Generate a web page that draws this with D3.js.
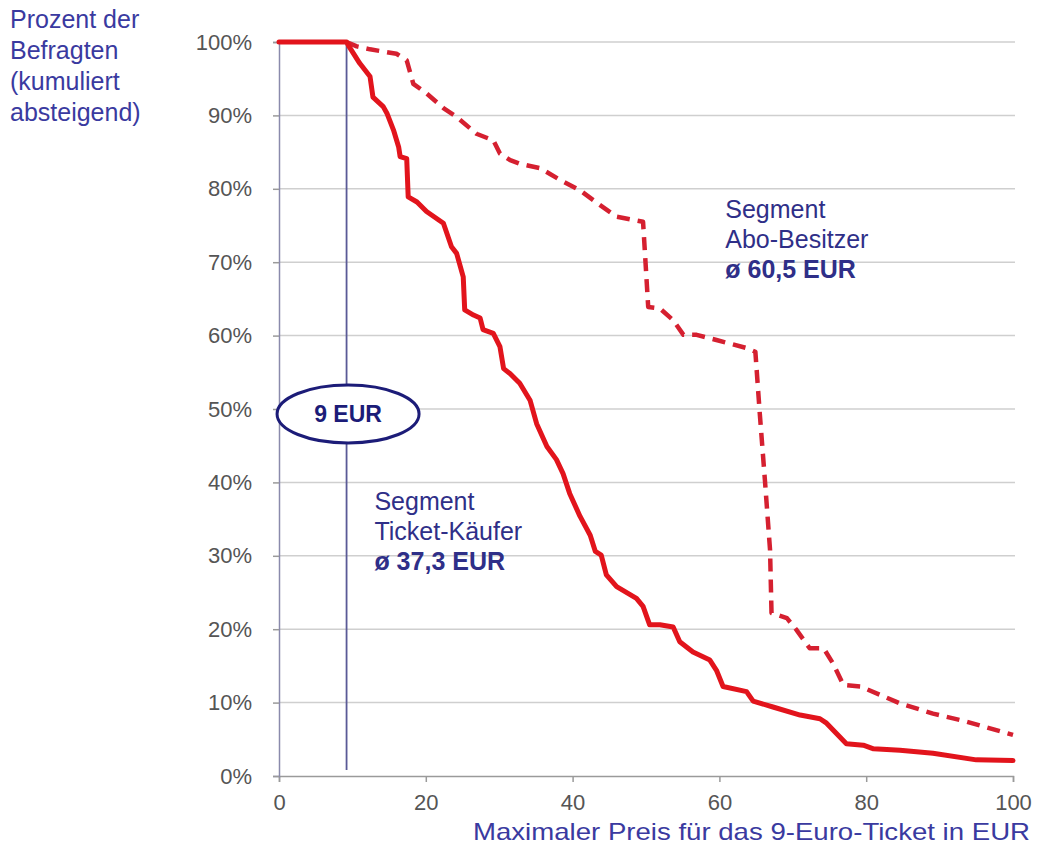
<!DOCTYPE html>
<html>
<head>
<meta charset="utf-8">
<script src="https://cdn.jsdelivr.net/npm/d3@7"></script>
<style>
  body { margin: 0; background: #fff; }
  text { font-family: "Liberation Sans", Arial, sans-serif; }
</style>
</head>
<body>
<script>
// Ticket-Käufer (solid line): price in EUR / share of respondents in %
var priceKaeufer = [0, 9.2, 9.6, 11.0, 12.4, 12.8, 14.2, 14.7, 15.6, 16.3, 16.5, 17.4, 17.6, 18.8, 20.1, 22.4, 23.5, 24.2, 25.1, 25.3, 26.5, 27.4, 27.8, 29.2, 30.1, 30.6, 31.5, 32.8, 34.2, 35.1, 36.5, 37.8, 38.7, 39.6, 41.0, 42.4, 43.1, 43.9, 44.6, 46.0, 48.7, 49.6, 50.5, 51.9, 53.7, 54.6, 56.4, 58.7, 59.6, 60.5, 63.7, 64.6, 67.3, 71.0, 73.7, 74.6, 77.3, 79.6, 81.0, 84.6, 89.1, 95.0, 100];
var pctKaeufer = [100, 100, 99.3, 97.1, 95.3, 92.5, 91.2, 90.3, 88.0, 85.7, 84.4, 84.1, 78.9, 78.2, 76.9, 75.3, 72.1, 71.2, 68.0, 63.5, 62.8, 62.4, 60.8, 60.3, 58.5, 55.5, 54.8, 53.5, 51.2, 48.0, 44.9, 43.1, 41.2, 38.5, 35.4, 32.8, 30.6, 30.1, 27.4, 25.8, 24.2, 23.1, 20.6, 20.6, 20.3, 18.3, 16.9, 15.8, 14.4, 12.2, 11.5, 10.2, 9.4, 8.3, 7.8, 7.2, 4.4, 4.2, 3.7, 3.5, 3.1, 2.2, 2.1];

// Abo-Besitzer (dashed line)
var priceAbo = [9.2, 10.6, 12.4, 16.0, 17.4, 18.3, 20.1, 22.4, 24.2, 26.9, 29.2, 30.1, 31.5, 32.8, 35.6, 38.3, 41.0, 43.7, 46.0, 49.6, 50.3, 51.9, 53.7, 55.1, 56.9, 59.6, 63.7, 64.9, 65.5, 66.2, 66.9, 67.1, 69.2, 70.5, 72.3, 74.2, 75.5, 76.9, 79.2, 84.6, 89.1, 93.7, 100];
var pctAbo = [100, 99.4, 99.0, 98.4, 97.5, 94.3, 93.0, 91.0, 89.8, 87.5, 86.6, 84.8, 83.9, 83.4, 82.8, 81.2, 79.8, 77.8, 76.2, 75.5, 63.9, 63.7, 62.1, 60.1, 60.1, 59.4, 58.3, 57.8, 49.4, 40.3, 30.8, 22.2, 21.5, 19.9, 17.4, 17.4, 15.3, 12.4, 12.2, 9.9, 8.5, 7.4, 5.6];

var xTicks = [0, 20, 40, 60, 80, 100];
var yTicks = [0, 10, 20, 30, 40, 50, 60, 70, 80, 90, 100];
var markerPrice = 9;
var yTitle = ["Prozent der", "Befragten", "(kumuliert", "absteigend)"];
var xTitle = "Maximaler Preis für das 9-Euro-Ticket in EUR";
var labelAbo = ["Segment", "Abo-Besitzer", "ø 60,5 EUR"];
var labelKaeufer = ["Segment", "Ticket-Käufer", "ø 37,3 EUR"];

(function(){
  const W = 1038, H = 852;
  const M = { top: 42, left: 279, right: 25, bottom: 76 };
  const w = W - M.left - M.right, h = H - M.top - M.bottom;
  const BLUE = "#2f2f88";

  var svg = d3.select("body").append("svg").attr("width", W).attr("height", H);
  var g = svg.append("g").attr("transform", "translate(" + M.left + "," + M.top + ")");

  var x = d3.scaleLinear().domain([0, 100]).range([0, w]);
  var y = d3.scaleLinear().domain([0, 100]).range([h, 0]);

  // grid lines
  g.selectAll("line.grid").data(yTicks.filter(function(d){ return d > 0; }))
    .enter().append("line").attr("class", "grid")
    .attr("x1", 0).attr("x2", w + 2)
    .attr("y1", function(d){ return y(d); }).attr("y2", function(d){ return y(d); })
    .attr("stroke", "#cfcfcf").attr("stroke-width", 1.5);

  // x axis
  var xa = g.append("g").attr("transform", "translate(0," + h + ")")
    .call(d3.axisBottom(x).tickValues(xTicks).tickSize(6).tickPadding(12));
  xa.select(".domain").attr("stroke", "#9a9a9a").attr("stroke-width", 1.5);
  xa.selectAll(".tick line").attr("stroke", "#9a9a9a").attr("stroke-width", 1.5);
  xa.selectAll(".tick text").attr("fill", "#555").style("font-size", "22px");

  // y axis
  var ya = g.append("g")
    .call(d3.axisLeft(y).tickValues(yTicks).tickSize(6).tickPadding(21)
      .tickFormat(function(d){ return d + "%"; }));
  ya.select(".domain").attr("stroke", "#8a8aac").attr("stroke-width", 1.5);
  ya.selectAll(".tick line").attr("stroke", "#9a9a9a").attr("stroke-width", 1.5);
  ya.selectAll(".tick text").attr("fill", "#555").style("font-size", "22px");

  // 9 EUR marker line
  g.append("line")
    .attr("x1", x(markerPrice) + 1.5).attr("x2", x(markerPrice) + 1.5)
    .attr("y1", y(100)).attr("y2", h - 6)
    .attr("stroke", "#5a5a96").attr("stroke-width", 1.8);

  var line = d3.line()
    .x(function(d){ return x(d[0]); })
    .y(function(d){ return y(d[1]); });

  // dashed: Abo-Besitzer
  g.append("path")
    .datum(d3.zip(priceAbo, pctAbo))
    .attr("d", line).attr("fill", "none")
    .attr("stroke", "#d52030").attr("stroke-width", 4.5)
    .attr("stroke-dasharray", "13,8")
    .attr("stroke-linejoin", "round");

  // solid: Ticket-Käufer
  g.append("path")
    .datum(d3.zip(priceKaeufer, pctKaeufer))
    .attr("d", line).attr("fill", "none")
    .attr("stroke", "#e2141c").attr("stroke-width", 5)
    .attr("stroke-linejoin", "round").attr("stroke-linecap", "round");

  // 9 EUR ellipse
  var ex = x(markerPrice) + 3, ey = y(50) + 5;
  g.append("ellipse").attr("cx", ex).attr("cy", ey).attr("rx", 71).attr("ry", 29)
    .attr("fill", "#fff").attr("stroke", "#1c1c78").attr("stroke-width", 3);
  g.append("text").attr("x", ex).attr("y", ey + 8).attr("text-anchor", "middle")
    .attr("fill", "#1c1c78").style("font-size", "23px").style("font-weight", "bold")
    .text(markerPrice + " EUR");

  // segment labels
  function segLabel(lines, px, py){
    var t = g.append("text").attr("fill", BLUE).style("font-size", "25px");
    lines.forEach(function(s, i){
      t.append("tspan").attr("x", px).attr("y", py + i * 30)
        .style("font-weight", i == 2 ? "bold" : "normal")
        .text(s);
    });
  }
  segLabel(labelAbo, x(60.8), y(76.0));
  segLabel(labelKaeufer, x(13.0), y(36.2));

  // axis titles
  var yt = svg.append("text").attr("fill", "#3a3aa0").style("font-size", "25px");
  yTitle.forEach(function(s, i){
    yt.append("tspan").attr("x", 10).attr("y", 28 + i * 31).text(s);
  });
  svg.append("text").attr("x", 473).attr("y", 840)
    .attr("textLength", 557).attr("lengthAdjust", "spacingAndGlyphs")
    .attr("fill", "#3a3aa0").style("font-size", "24px").text(xTitle);
})();
</script>
</body>
</html>
